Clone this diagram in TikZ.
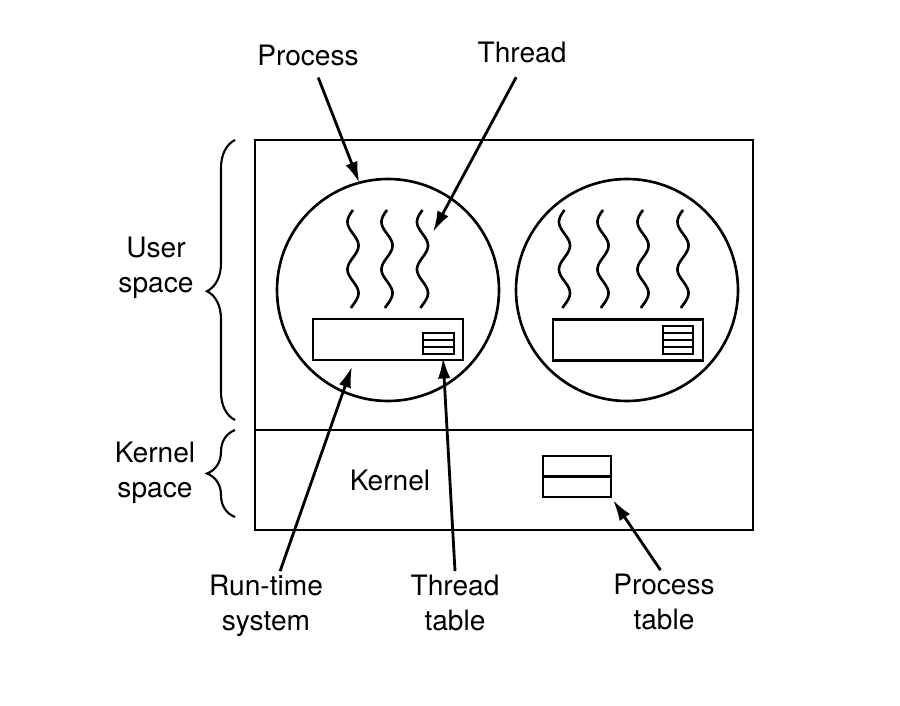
\documentclass[tikz,border=0pt]{standalone}
\usepackage{fontspec}
\setmainfont{TeX Gyre Heros}
\usetikzlibrary{decorations.pathreplacing,arrows.meta,calc}

\tikzset{
  lbl/.style={font=\fontsize{16}{20}\selectfont, align=center, inner sep=2pt},
  arr/.style={-{Latex[length=4.2mm,width=2.5mm]}, line width=1.6pt},
  box/.style={draw, line width=1.6pt, inner sep=0pt, outer sep=0pt},
  tbl/.style={draw, line width=1.3pt, inner sep=0pt, outer sep=0pt},
  wave/.style={line width=1.5pt},
  brc/.style={decorate, line width=1.2pt},
}

\begin{document}
\begin{tikzpicture}
\useasboundingbox (0,0) rectangle (18,14.1);
% system box: user part above, kernel part below
\node[box, line width=1.7pt, minimum width=9.96cm, minimum height=7.8cm] (sys) at (10.08,7.4) {};
\draw[line width=1.7pt] (sys.west |- 0,5.5) -- (sys.east |- 0,5.5);
% two processes
\node[box, circle, line width=1.5pt, minimum size=4.44cm] (proc1) at (7.76,8.3) {};
\node[box, circle, line width=1.5pt, minimum size=4.44cm] (proc2) at (12.54,8.3) {};
% threads
\foreach \wx in {7.06,7.74,8.45,11.29,12.06,12.86,13.66}
  \draw[wave] plot[variable=\t, domain=0:1.96, samples=60, smooth]
    ({\wx-0.11*sin(\t*379)},{9.9-\t});
% run-time systems with their thread tables
\node[box, minimum width=3cm, minimum height=0.82cm] (rts1) at (7.76,7.31) {};
\node[box, minimum width=3cm, minimum height=0.82cm] (rts2) at (12.56,7.3) {};
\node[tbl, minimum width=0.62cm, minimum height=0.42cm] (tbl1) at (8.77,7.23) {};
\node[tbl, minimum width=0.6cm, minimum height=0.56cm] (tbl2) at (13.56,7.3) {};
\foreach \f in {1,2}
  \draw[line width=1.3pt] ($(tbl1.south west)!\f/3!(tbl1.north west)$) -- ($(tbl1.south east)!\f/3!(tbl1.north east)$);
\foreach \f in {1,2,3}
  \draw[line width=1.3pt] ($(tbl2.south west)!\f/4!(tbl2.north west)$) -- ($(tbl2.south east)!\f/4!(tbl2.north east)$);
% process table in the kernel
\node[tbl, line width=1.5pt, minimum width=1.36cm, minimum height=0.82cm] (ptbl) at (11.54,4.57) {};
\draw[line width=1.5pt] (ptbl.west) -- (ptbl.east);
\node[lbl] (kern) at (7.8,4.5) {Kernel};
% braces
\draw[brc, decoration={brace, amplitude=0.56cm, aspect=0.46}] (4.7,5.7) -- (4.7,11.3);
\draw[brc, decoration={brace, amplitude=0.56cm}] (4.7,3.76) -- (4.7,5.5);
\node[lbl] (usp) at (3.12,8.75) {User\\space};
\node[lbl] (ksp) at (3.1,4.64) {Kernel\\space};
% labels and arrows
\node[lbl] (proclbl) at (6.16,13.0) {Process};
\node[lbl] (thrlbl) at (10.44,13.06) {Thread};
\node[lbl] (rtslbl) at (5.32,1.98) {Run-time\\system};
\node[lbl] (ttlbl) at (9.1,2.04) {Thread\\table};
\node[lbl] (ptlbl) at (13.28,2.06) {Process\\table};
\coordinate (thrtip) at (8.66,9.46);
\coordinate (rtstip) at (7.04,6.77);
\coordinate (tttip) at (8.86,6.95);
\coordinate (pttip) at (12.26,4.1);
\draw[arr, shorten <=5pt] ([xshift=4pt]proclbl.south) -- (proc1.105);
\draw[arr, shorten <=7pt] (thrlbl.south) -- (thrtip);
\draw[arr] ([xshift=8pt]rtslbl.north) -- (rtstip);
\draw[arr] (ttlbl.north) -- (tttip);
\draw[arr] ([xshift=-2pt]ptlbl.north) -- (pttip);
\end{tikzpicture}
\end{document}
